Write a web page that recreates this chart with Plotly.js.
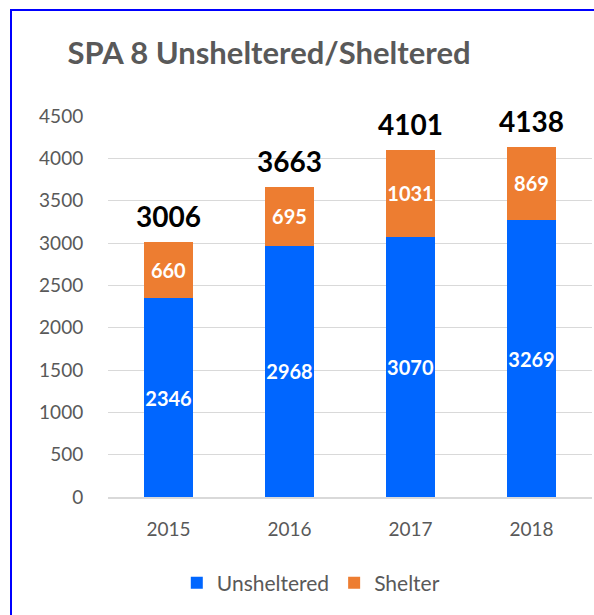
<!DOCTYPE html>
<html>
<head>
<meta charset="utf-8">
<script src="https://cdn.plot.ly/plotly-3.0.1.min.js"></script>
<style>
html,body{margin:0;padding:0;overflow:hidden;background:#fff;}
#wrap{position:relative;width:594px;height:615px;}
#chart{position:absolute;left:0;top:0;width:594px;height:615px;}
#frame{position:absolute;left:10px;top:9px;width:700px;height:700px;border-left:2px solid #0000ff;border-top:2px solid #0000ff;pointer-events:none;}
#err{position:absolute;left:20px;top:300px;color:red;font:12px sans-serif;}
</style>
</head>
<body>
<div id="wrap"><div id="chart"></div><div id="frame"></div><div id="err"></div></div>
<script>
const years = ['2015', '2016', '2017', '2018'];
const unsheltered = [2346, 2968, 3070, 3269];
const shelter = [660, 695, 1031, 869];
const totals = [3006, 3663, 4101, 4138];
const yTicks = [0, 500, 1000, 1500, 2000, 2500, 3000, 3500, 4000, 4500];

const FONT = 'Lato, "Open Sans", sans-serif';
const GREY = '#595959';

const traces = [
  {
    type: 'bar', name: 'Unsheltered', x: years, y: unsheltered,
    marker: {color: '#0066ff'},
    text: unsheltered.map(String), textposition: 'inside', insidetextanchor: 'middle',
    textangle: 0, constraintext: 'none',
    textfont: {family: FONT, size: 20, color: '#ffffff', weight: 'bold'},
    hoverinfo: 'none'
  },
  {
    type: 'bar', name: 'Shelter', x: years, y: shelter,
    marker: {color: '#ed7d31'},
    text: shelter.map(String), textposition: 'inside', insidetextanchor: 'middle',
    textangle: 0, constraintext: 'none',
    textfont: {family: FONT, size: 20, color: '#ffffff', weight: 'bold'},
    hoverinfo: 'none'
  }
];

const annotations = years.map((yr, i) => ({
  x: i, y: totals[i], xref: 'x', yref: 'y',
  text: '<b>' + totals[i] + '</b>', showarrow: false,
  yanchor: 'bottom', yshift: 7,
  font: {family: FONT, size: 28, color: '#000000'}
}));

const layout = {
  width: 594, height: 615,
  margin: {l: 108, r: 2, t: 116, b: 118},
  paper_bgcolor: '#ffffff', plot_bgcolor: '#ffffff',
  barmode: 'stack', bargap: 0.6,
  title: {
    text: '<b>SPA 8 Unsheltered/Sheltered</b>',
    font: {family: FONT, size: 31, color: GREY},
    x: 0.453, xref: 'container', xanchor: 'center',
    y: 1 - 53 / 615, yref: 'container', yanchor: 'middle'
  },
  xaxis: {
    type: 'category', showgrid: false, zeroline: false,
    showline: true, linecolor: '#d9d9d9', linewidth: 1.5,
    ticks: 'outside', ticklen: 15, tickcolor: 'rgba(0,0,0,0)',
    tickfont: {family: FONT, size: 19, color: GREY}
  },
  yaxis: {
    range: [0, 4500], tickvals: yTicks, ticktext: yTicks.map(String),
    showgrid: true, gridcolor: '#d9d9d9', gridwidth: 1,
    zeroline: true, zerolinecolor: '#d9d9d9', zerolinewidth: 1,
    showline: false, ticks: 'outside', ticklen: 20, tickcolor: 'rgba(0,0,0,0)',
    tickfont: {family: FONT, size: 19, color: GREY}
  },
  showlegend: true,
  legend: {
    orientation: 'h', x: 0.419, xanchor: 'center', y: -0.226, yanchor: 'middle',
    font: {family: FONT, size: 21, color: GREY}, traceorder: 'normal'
  },
  annotations: annotations
};

try {
  Plotly.newPlot('chart', traces, layout, {displayModeBar: false, staticPlot: true})
    .catch(e => { document.getElementById('err').textContent = String(e); });
} catch (e) {
  document.getElementById('err').textContent = String(e);
}
</script>
</body>
</html>
